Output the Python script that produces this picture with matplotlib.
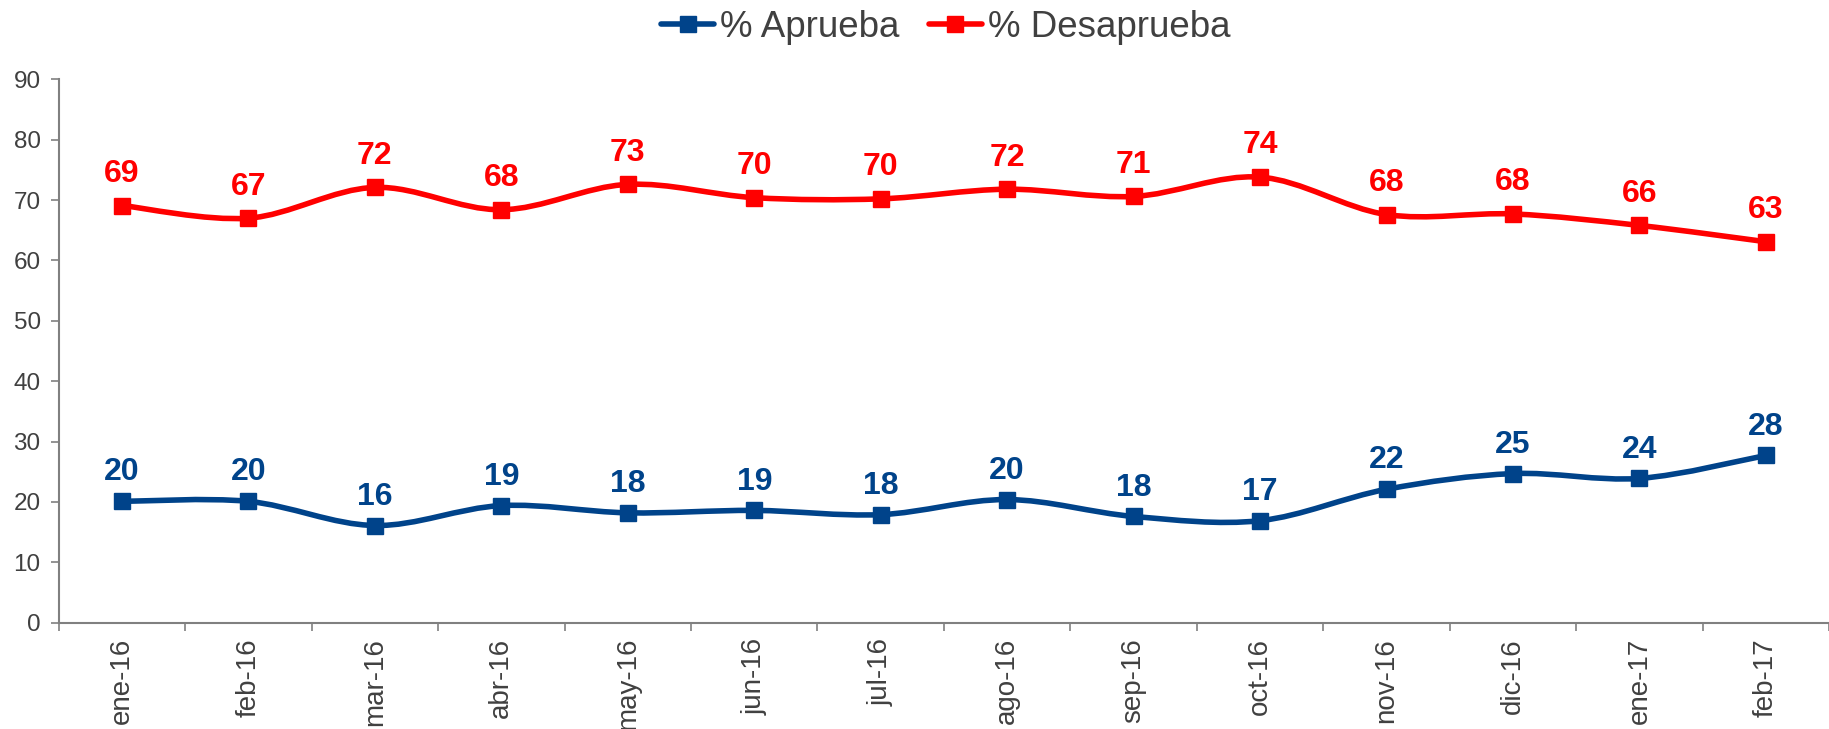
import numpy as np
import matplotlib
matplotlib.use('Agg')
import matplotlib.pyplot as plt
from matplotlib.path import Path
from matplotlib.patches import PathPatch
from matplotlib.lines import Line2D

plt.rcParams['font.family'] = ['Liberation Sans', 'DejaVu Sans']

meses = ['ene-16', 'feb-16', 'mar-16', 'abr-16', 'may-16', 'jun-16', 'jul-16',
         'ago-16', 'sep-16', 'oct-16', 'nov-16', 'dic-16', 'ene-17', 'feb-17']
aprueba = [20.1, 20.1, 16.1, 19.4, 18.2, 18.6, 17.9, 20.4, 17.6, 16.9, 22.1, 24.7, 23.9, 27.7]
desaprueba = [69.1, 67.0, 72.1, 68.4, 72.6, 70.4, 70.2, 71.8, 70.6, 73.8, 67.6, 67.7, 65.8, 63.1]

azul = '#00438A'
rojo = '#FF0000'
gris = '#404040'


def smooth_path(x, y):
    # bezier curve through the points, like excel's smoothed line
    pts = np.column_stack([x, y]).astype(float)
    n = len(pts)
    verts = [pts[0]]
    codes = [Path.MOVETO]
    for i in range(n - 1):
        p0 = pts[i - 1] if i > 0 else pts[i]
        p1 = pts[i]
        p2 = pts[i + 1]
        p3 = pts[i + 2] if i + 2 < n else pts[i + 1]
        c1 = p1 + (p2 - p0) / 6
        c2 = p2 - (p3 - p1) / 6
        verts += [c1, c2, p2]
        codes += [Path.CURVE4] * 3
    return Path(verts, codes)


fig = plt.figure(figsize=(18.29, 7.29), dpi=100)
ax = fig.add_axes([0.0321, 0.1458, 0.968, 0.7454])

x = np.arange(len(meses))
for vals, color, off in [(aprueba, azul, 10), (desaprueba, rojo, 12)]:
    patch = PathPatch(smooth_path(x, vals), facecolor='none', edgecolor=color,
                      lw=4.0, capstyle='round', joinstyle='round', zorder=2)
    ax.add_patch(patch)
    ax.plot(x, vals, ls='none', marker='s', ms=11.5, color=color, zorder=3)
    for xi, v in zip(x, vals):
        ax.annotate(f'{round(v):d}', (xi, v), xytext=(0, off), textcoords='offset points',
                    ha='center', va='bottom', fontsize=23, fontweight='bold', color=color)

ax.set_xlim(-0.5, len(meses) - 0.5)
ax.set_ylim(0, 90)
ax.set_yticks(range(0, 91, 10))
ax.set_xticks(np.arange(-0.5, len(meses), 1.0))
ax.set_xticklabels([])
ax.set_xticks(x, minor=True)
ax.set_xticklabels(meses, minor=True, rotation=90, fontsize=20, color=gris)
ax.tick_params(axis='x', which='minor', length=0, pad=11)
ax.tick_params(axis='x', which='major', length=6, color='#808080', width=1.2)
ax.tick_params(axis='y', length=6, color='#808080', width=1.2, labelsize=17.5,
               labelcolor=gris, pad=7)

for s in ['top', 'right']:
    ax.spines[s].set_visible(False)
for s in ['left', 'bottom']:
    ax.spines[s].set_color('#808080')
    ax.spines[s].set_linewidth(1.5)

handles = [Line2D([], [], color=azul, lw=4.0, marker='s', ms=12, solid_capstyle='round'),
           Line2D([], [], color=rojo, lw=4.0, marker='s', ms=12, solid_capstyle='round')]
fig.legend(handles, ['% Aprueba', '% Desaprueba'], loc='center', bbox_to_anchor=(0.517, 0.962),
           ncol=2, frameon=False, fontsize=26.5, labelcolor=gris, handlelength=1.45,
           handletextpad=0.15, columnspacing=0.8)

fig.savefig('out.png', dpi=100)
